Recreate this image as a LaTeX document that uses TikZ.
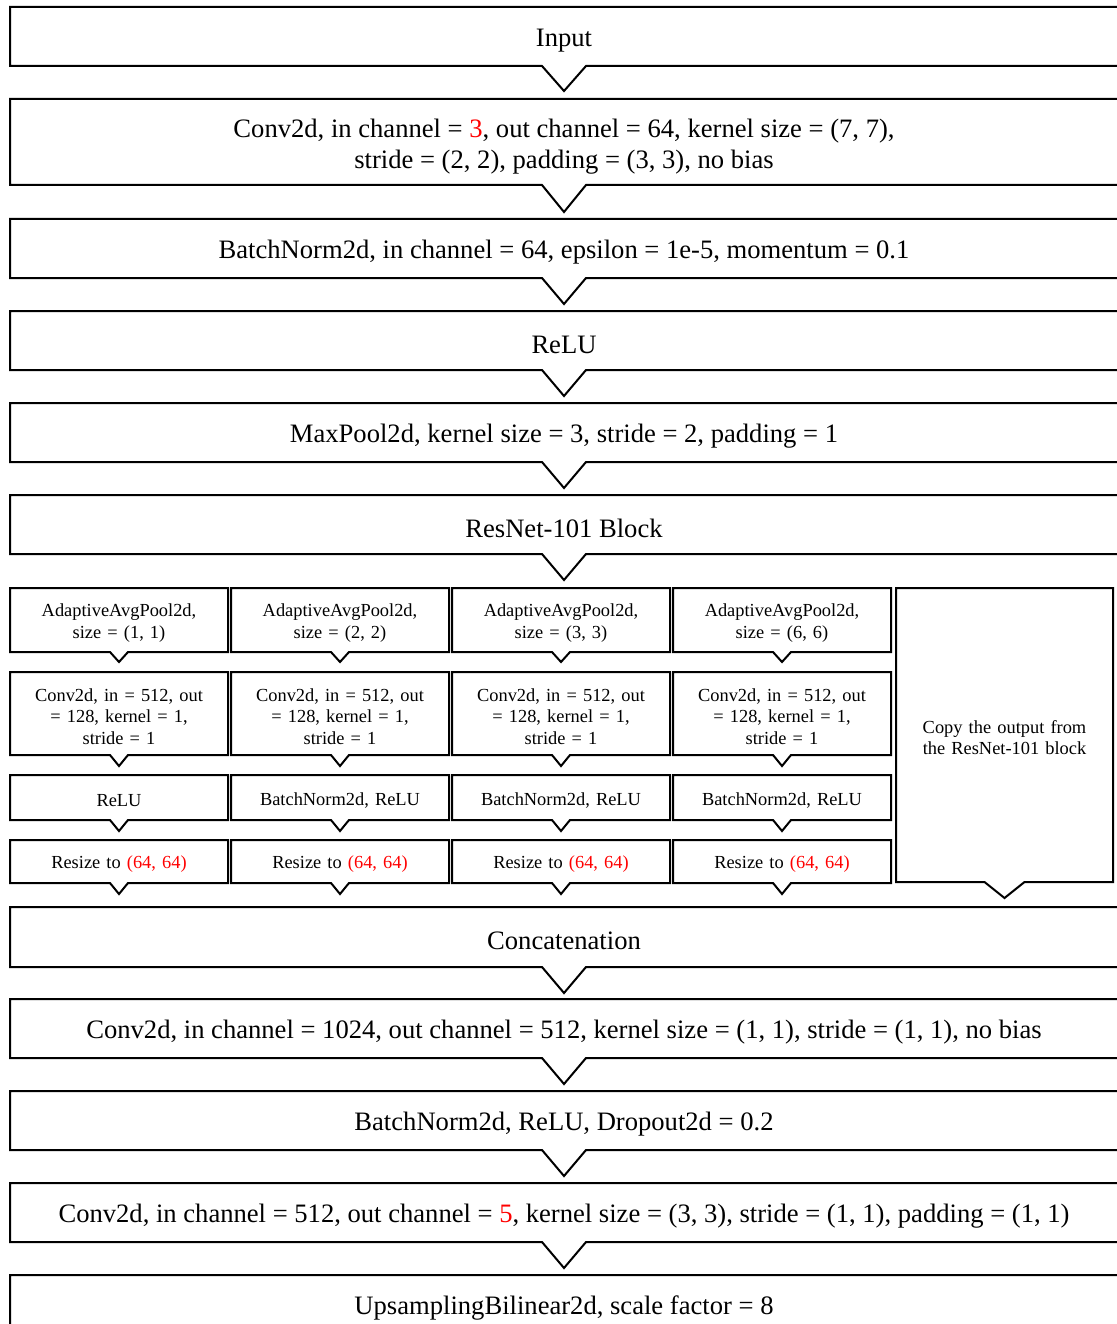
\documentclass[tikz,border=0pt]{standalone}
\usepackage{fontspec, xcolor}
\setmainfont{Liberation Serif}
\usetikzlibrary{positioning}
\newcommand{\hl}[1]{\textcolor{red}{#1}}

\begin{document}
\begin{tikzpicture}[x=1pt, y=1pt,
    bigbox/.style={minimum width=1108pt, inner sep=0pt, outer sep=0pt, align=center,
                   font=\fontsize{26.6}{31}\selectfont, execute at begin node={\rule{0pt}{26pt}}},
    smallbox/.style={minimum width=218pt, text width=206pt, inner sep=0pt, outer sep=0pt,
                     align=center, font=\fontsize{18.4}{21.5}\selectfont,
                     execute at begin node={\rule{0pt}{18.5pt}}},
    outline/.style={line width=2pt, line join=miter}]
  \useasboundingbox (0,0) rectangle (1116,-1324);
  % Main column
  \node[bigbox, minimum height=59pt] (input) at (564,-36.5) {Input};
  \node[bigbox, minimum height=86pt, below=33pt of input] (conv1)
    {\rule{0pt}{28.5pt}Conv2d, in channel = \hl{3}, out channel = 64, kernel size = (7, 7),\\
     stride = (2, 2), padding = (3, 3), no bias};
  \node[bigbox, minimum height=59pt, below=34pt of conv1] (bn1)
    {BatchNorm2d, in channel = 64, epsilon = 1e-5, momentum = 0.1};
  \node[bigbox, minimum height=59pt, below=33pt of bn1] (relu1) {ReLU};
  \node[bigbox, minimum height=59pt, below=33pt of relu1] (pool) {MaxPool2d, kernel size = 3, stride = 2, padding = 1};
  \node[bigbox, minimum height=59pt, below=33pt of pool] (resnet) {ResNet-101 Block};
  % Pyramid branches
  \node[smallbox, minimum height=64pt] (ap1) at (119,-620) {AdaptiveAvgPool2d,\\ size = (1, 1)};
  \node[smallbox, minimum height=64pt, right=3pt of ap1] (ap2) {AdaptiveAvgPool2d,\\ size = (2, 2)};
  \node[smallbox, minimum height=64pt, right=3pt of ap2] (ap3) {AdaptiveAvgPool2d,\\ size = (3, 3)};
  \node[smallbox, minimum height=64pt, right=3pt of ap3] (ap4) {AdaptiveAvgPool2d,\\ size = (6, 6)};
  \foreach \i in {1,...,4} {
    \node[smallbox, minimum height=83pt, below=20pt of ap\i] (cv\i)
      {Conv2d, in = 512, out\\ = 128, kernel = 1,\\ stride = 1};
    \node[smallbox, minimum height=45pt, below=20pt of cv\i] (act\i)
      {\ifnum\i=1 ReLU\else BatchNorm2d, ReLU\fi};
    \node[smallbox, minimum height=43pt, below=20pt of act\i] (rs\i) {Resize to \hl{(64, 64)}};
  }
  \node[smallbox, minimum height=294pt, minimum width=217pt, right=5pt of ap4.north east,
        anchor=north west, font=\fontsize{18.4}{21}\selectfont,
        execute at begin node={\rule{0pt}{14.5pt}}] (copy)
    {Copy the output from\\ the ResNet-101 block};
  % Head
  \node[bigbox, minimum height=60pt, anchor=north] (concat) at (564,-907) {Concatenation};
  \node[bigbox, minimum height=59pt, below=32pt of concat] (conv2)
    {Conv2d, in channel = 1024, out channel = 512, kernel size = (1, 1), stride = (1, 1), no bias};
  \node[bigbox, minimum height=59pt, below=33pt of conv2] (bn2) {BatchNorm2d, ReLU, Dropout2d = 0.2};
  \node[bigbox, minimum height=59pt, below=33pt of bn2] (conv3)
    {Conv2d, in channel = 512, out channel = \hl{5}, kernel size = (3, 3), stride = (1, 1), padding = (1, 1)};
  \node[bigbox, minimum height=59pt, below=33pt of conv3] (up) {UpsamplingBilinear2d, scale factor = 8};
  % Box outlines with notch
  \foreach \n/\w/\d in {input/22/25, conv1/22/27, bn1/22/26, relu1/22/26, pool/22/26, resnet/22/26,
      ap1/9/10, ap2/9/10, ap3/9/10, ap4/9/10, cv1/9/11, cv2/9/11, cv3/9/11, cv4/9/11,
      act1/9/11, act2/9/11, act3/9/11, act4/9/11, rs1/9/11, rs2/9/11, rs3/9/11, rs4/9/11,
      copy/20/16, concat/22/26, conv2/22/26, bn2/22/26, conv3/22/26, up/22/26}
    \draw[outline] (\n.north west) -- (\n.north east) -- (\n.south east) -- ([xshift=\w pt]\n.south)
      -- ([yshift=-\d pt]\n.south) -- ([xshift=-\w pt]\n.south) -- (\n.south west) -- cycle;
\end{tikzpicture}
\end{document}
